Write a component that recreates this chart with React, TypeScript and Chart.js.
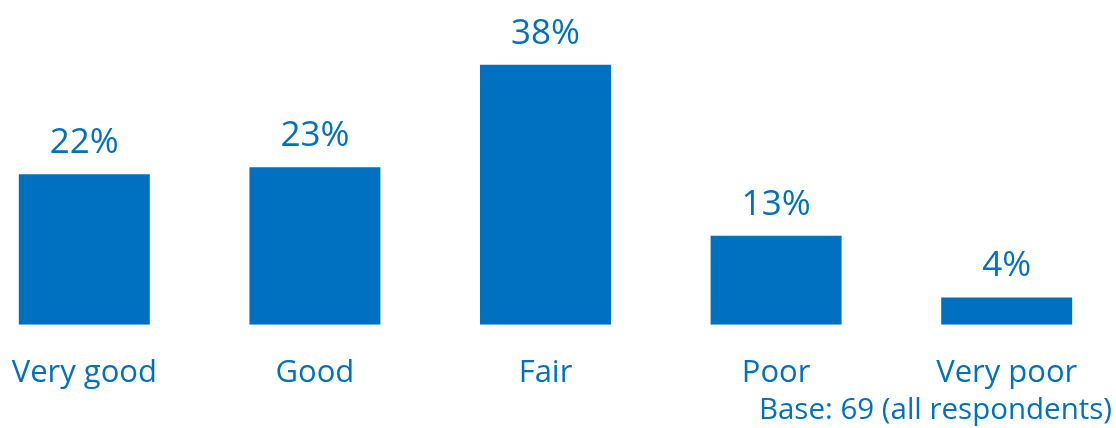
import React, { useEffect, useRef } from "react";
import { Chart, registerables } from "chart.js";

Chart.register(...registerables);

const categories = ["Very good", "Good", "Fair", "Poor", "Very poor"];
const values = [22, 23, 38, 13, 4];
const footnote = "Base: 69 (all respondents)";
const BLUE = "#0070C0";
const FONT = "'Open Sans', sans-serif";

export default function App() {
  const ref = useRef<HTMLCanvasElement | null>(null);

  useEffect(() => {
    if (!ref.current) return;
    const labelPlugin = {
      id: "valueLabels",
      afterDatasetsDraw(chart: any) {
        const ctx = chart.ctx;
        const meta = chart.getDatasetMeta(0);
        ctx.save();
        ctx.fillStyle = BLUE;
        ctx.font = `35px ${FONT}`;
        ctx.textAlign = "center";
        ctx.textBaseline = "alphabetic";
        meta.data.forEach((bar: any, i: number) => {
          ctx.fillText(`${values[i]}%`, bar.x, bar.y - 21);
        });
        ctx.font = `29.5px ${FONT}`;
        ctx.textAlign = "right";
        ctx.fillText(footnote, chart.width - 10, 419);
        ctx.restore();
      },
    };
    const chart = new Chart(ref.current, {
      type: "bar",
      data: {
        labels: categories,
        datasets: [
          {
            data: values,
            backgroundColor: BLUE,
            borderWidth: 0,
            barPercentage: 0.568,
            categoryPercentage: 1,
          },
        ],
      },
      options: {
        animation: false,
        responsive: true,
        maintainAspectRatio: false,
        layout: { padding: { top: 51, bottom: 6, left: 0, right: 0 } },
        plugins: { legend: { display: false }, tooltip: { enabled: false } },
        scales: {
          y: { display: false, min: 0, max: 40 },
          x: {
            grid: { display: false, drawTicks: false },
            border: { display: false },
            ticks: {
              color: BLUE,
              font: { family: FONT, size: 31 },
              padding: 30,
              maxRotation: 0,
              autoSkip: false,
            },
          },
        },
      },
      plugins: [labelPlugin],
    });
    return () => chart.destroy();
  }, []);

  return (
    <div
      style={{
        position: "fixed",
        left: 0,
        top: 0,
        width: 1116,
        height: 428,
        overflow: "hidden",
        background: "#fff",
      }}
    >
      <div style={{ position: "absolute", left: -31, top: 0, width: 1153, height: 428 }}>
        <canvas ref={ref} />
      </div>
    </div>
  );
}
